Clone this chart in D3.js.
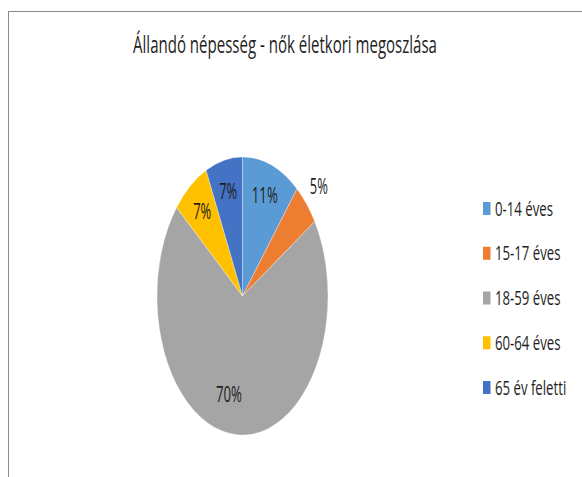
<!DOCTYPE html>
<html lang="en">
<head>
    <meta charset="UTF-8">
    <title>Állandó népesség</title>
    <script src="https://d3js.org/d3.v7.min.js"></script>
    <style>
        body { margin: 0; background: #fff; }
        text { font-family: "Open Sans", "Noto Sans", sans-serif; fill: #1e1e1e; }
    </style>
</head>
<body>
    <div id="chart"></div>

    <script>
        // Data
        const categories = ["0-14 éves", "15-17 éves", "18-59 éves", "60-64 éves", "65 év feletti"];
        const values = [11, 5, 70, 7, 7];
        const colors = ["#5B9BD5", "#ED7D31", "#A5A5A5", "#FFC000", "#4472C4"];
        const title = "Állandó népesség - nők életkori megoszlása";

        const width = 582, height = 477;
        const cx = 242.5, cy = 296, ry = 139, rx = 85.5;

        const svg = d3.select("#chart")
            .append("svg")
            .attr("width", width)
            .attr("height", height);

        // chart area border (runs off the right and bottom edges)
        svg.append("rect")
            .attr("x", 8.5).attr("y", 11.5)
            .attr("width", 700).attr("height", 600)
            .attr("fill", "none")
            .attr("stroke", "#8c8c8c")
            .attr("stroke-width", 1);

        // squeeze a text horizontally so it is targetW pixels wide
        function squeeze(t, x, y, targetW) {
            const w = t.node().getComputedTextLength();
            t.attr("transform", `translate(${x},${y}) scale(${targetW / w},1)`);
        }

        // Title
        const tt = svg.append("text")
            .attr("text-anchor", "middle")
            .style("font-size", "24px")
            .text(title);
        squeeze(tt, 285, 53, 304);

        // Pie (drawn as a circle, stretched into the ellipse of the picture)
        const data = categories.map((c, i) => ({ category: c, value: values[i], color: colors[i] }));
        const pie = d3.pie().sort(null).value(d => d.value);
        const arc = d3.arc().innerRadius(0).outerRadius(ry);
        const arcs = pie(data);

        const g = svg.append("g")
            .attr("transform", `translate(${cx},${cy}) scale(${rx / ry},1)`);

        g.selectAll("path")
            .data(arcs)
            .enter()
            .append("path")
            .attr("d", arc)
            .attr("fill", d => d.data.color)
            .attr("stroke", "#fff")
            .attr("stroke-width", 0.4);

        // labels
        const total = d3.sum(values);
        arcs.forEach(d => {
            const share = d.data.value / total;
            const r = share < 0.06 ? 1.19 * ry : (share > 0.5 ? 0.71 * ry : 0.77 * ry);
            const la = d3.arc().innerRadius(r).outerRadius(r);
            let [px, py] = la.centroid(d);
            if (share > 0.5) { px = -13.5 / rx * ry; }
            const t = svg.append("text")
                .attr("text-anchor", "middle")
                .attr("dy", "0.36em")
                .style("font-size", "21px")
                .text(Math.round(share * 100) + "%");
            const w = t.node().getComputedTextLength();
            const target = t.text().length === 2 ? 18 : 26;
            t.attr("transform", `translate(${cx + px * rx / ry},${cy + py}) scale(${target / w},1)`);
        });

        // Legend
        const legend = svg.append("g");
        const rowY = d3.scaleLinear().domain([0, 4]).range([208.5, 387.5]);
        categories.forEach((c, i) => {
            legend.append("rect")
                .attr("x", 483).attr("y", rowY(i) - 6.5)
                .attr("width", 7.5).attr("height", 13)
                .attr("fill", colors[i]);
            const t = legend.append("text")
                .style("font-size", "20px")
                .attr("dy", "0.36em")
                .text(c);
            const w0 = legend.append("text").style("font-size", "20px").text(categories[0]);
            const s = 58 / w0.node().getComputedTextLength();
            w0.remove();
            t.attr("transform", `translate(495,${rowY(i)}) scale(${s},1)`);
        });
    </script>
</body>
</html>
